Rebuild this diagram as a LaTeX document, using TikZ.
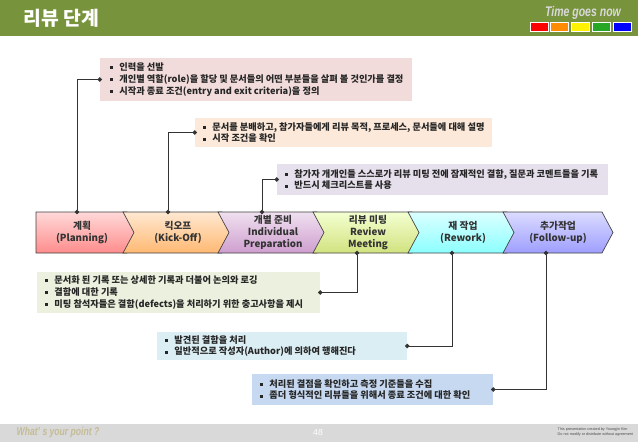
\documentclass[tikz,border=0pt]{standalone}
\usepackage{fontspec}
\setmainfont{Noto Sans CJK KR}
\newfontfamily\latinsans{Liberation Sans}
\newfontfamily\narrowsans[FakeStretch=0.75]{Liberation Sans}
\usetikzlibrary{positioning,fit,arrows.meta}

\definecolor{headgreen}{HTML}{77933C}
\definecolor{footgray}{HTML}{D9D9D9}
\definecolor{footkhaki}{HTML}{C4BC96}
\definecolor{noteA}{HTML}{F2DCDB}
\definecolor{noteB}{HTML}{FDE9D9}
\definecolor{noteC}{HTML}{E6E0EC}
\definecolor{noteD}{HTML}{EBF1DE}
\definecolor{noteE}{HTML}{DBEEF4}
\definecolor{noteF}{HTML}{C6D9F1}

\tikzset{
  stage/.style={align=center, font=\bfseries\fontsize{7.3}{8.8}\selectfont, text=black!80},
  chev/.style={draw=black!75, line width=0.5pt},
  note/.style={inner sep=0pt},
  notetext/.style={anchor=west, align=left, inner sep=0pt, font=\bfseries\fontsize{6.9}{8.9}\selectfont, text=black!85},
  link/.style={draw=black!80, line width=0.6pt, {Circle[length=3.2pt]}-{Circle[length=3.2pt]}, shorten <=-1.6pt, shorten >=-1.6pt},
  tbox/.style={draw=white, line width=0.6pt, inner sep=0pt, minimum width=13.5pt, minimum height=6.75pt}
}
\newcommand{\itm}{\rule[1pt]{2.1pt}{2.1pt}\hspace{5pt}}
% chevron: left x, tip x, notch depth
\newcommand{\chevpath}[3]{(#1,212) -- (#2-11,212) -- (#2,232.5) -- (#2-11,253) -- (#1,253) -- (#1+#3,232.5) -- cycle}

\begin{document}
\begin{tikzpicture}[x=0.75pt, y=-0.75pt]
    \useasboundingbox (0,0) rectangle (638,442);
    % header and footer
    \fill[headgreen] (0,0) rectangle (638,36);
    \fill[footgray] (0,424) rectangle (638,442);
    \node[anchor=west, text=white, font=\bfseries\fontsize{14.5}{16}\selectfont] (title) at (19,18) {리뷰 단계};
    \node[font=\narrowsans\bfseries\itshape\fontsize{10.5}{11}\selectfont, text=black!15] (slogan) at (583,13) {Time goes now};
    \node[tbox, fill=red] (sq1) at (539,26.5) {};
    \node[tbox, fill=orange!90!yellow, right=1.5pt of sq1] (sq2) {};
    \node[tbox, fill=yellow, right=1.5pt of sq2] (sq3) {};
    \node[tbox, fill=green!60!black!85, right=1.5pt of sq3] (sq4) {};
    \node[tbox, fill=blue, right=1.5pt of sq4] (sq5) {};
    \node[anchor=west, font=\narrowsans\bfseries\itshape\fontsize{8.6}{10}\selectfont, text=footkhaki] (point) at (12,433) {What’ s your point ?};
    \node[text=white, font=\latinsans\fontsize{6.5}{7}\selectfont] (pageno) at (318,433) {48};
    \node[anchor=west, align=left, font=\latinsans\fontsize{2.8}{3.4}\selectfont, text=black!70] (credit) at (553,432) {This presentation created by Youngjin Kim\\Do not modify or distribute without agreement};

    % stages
    \path[chev, top color=red!15, bottom color=red!45] \chevpath{36}{138}{0};
    \path[chev, top color=orange!18, bottom color=orange!55] \chevpath{123}{233}{11};
    \path[chev, top color=violet!12, bottom color=violet!38] \chevpath{218}{328}{11};
    \path[chev, top color=lime!18!white, bottom color=lime!55!olive!50] \chevpath{313}{423}{11};
    \path[chev, top color=cyan!14, bottom color=cyan!45] \chevpath{408}{518}{11};
    \path[chev, top color=blue!14, bottom color=blue!38] \chevpath{503}{613}{11};
    \node[stage] (plan) at (82,232.5) {계획\\(Planning)};
    \node[stage] (kick) at (178,232.5) {킥오프\\(Kick-Off)};
    \node[stage] (prep) at (273,232.5) {개별 준비\\Individual\\Preparation};
    \node[stage] (meet) at (368,232.5) {리뷰 미팅\\Review\\Meeting};
    \node[stage] (rework) at (463,232.5) {재 작업\\(Rework)};
    \node[stage] (follow) at (558,232.5) {추가작업\\(Follow-up)};
    \coordinate (p1) at (77,212);
    \coordinate (p2) at (168,212);
    \coordinate (p3) at (262,212);
    \coordinate (p4) at (357,253);
    \coordinate (p5) at (452,253);
    \coordinate (p6) at (546,253);

    % notes
    \node[note, fill=noteA, fit={(100,58) (412,101)}] (b1) {};
    \node[notetext] (t1) at ([xshift=7.5pt]b1.west) {\itm 인력을 선발\\\itm 개인별 역할(role)을 할당 및 문서들의 어떤 부분들을 살펴 볼 것인가를 결정\\\itm 시작과 종료 조건(entry and exit criteria)을 정의};
    \node[note, fill=noteB, fit={(195,118) (492,147)}] (b2) {};
    \node[notetext] (t2) at ([xshift=6pt]b2.west) {\itm 문서를 분배하고, 참가자들에게 리뷰 목적, 프로세스, 문서들에 대해 설명\\\itm 시작 조건을 확인};
    \node[note, fill=noteC, fit={(277,164) (608,195)}] (b3) {};
    \node[notetext] (t3) at ([xshift=6pt]b3.west) {\itm 참가자 개개인들 스스로가 리뷰 미팅 전에 잠재적인 결함, 질문과 코멘트들을 기록\\\itm 반드시 체크리스트를 사용};
    \node[note, fill=noteD, fit={(37,272) (320,313)}] (b4) {};
    \node[notetext] (t4) at ([xshift=6pt]b4.west) {\itm 문서화 된 기록 또는 상세한 기록과 더불어 논의와 로깅\\\itm 결함에 대한 기록\\\itm 미팅 참석자들은 결함(defects)을 처리하기 위한 충고사항을 제시};
    \node[note, fill=noteE, fit={(157,332) (407,360)}] (b5) {};
    \node[notetext] (t5) at ([xshift=6pt]b5.west) {\itm 발견된 결함을 처리\\\itm 일반적으로 작성자(Author)에 의하여 행해진다};
    \node[note, fill=noteF, fit={(252,374) (493,405)}] (b6) {};
    \node[notetext] (t6) at ([xshift=6pt]b6.west) {\itm 처리된 결점을 확인하고 측정 기준들을 수집\\\itm 좀더 형식적인 리뷰들을 위해서 종료 조건에 대한 확인};

    % links
    \draw[link] (p1) |- (b1.west);
    \draw[link] (p2) |- (b2.west);
    \draw[link] (p3) |- (b3.west);
    \draw[link] (p4) |- (b4.east);
    \draw[link] (p5) |- (b5.east);
    \draw[link] (p6) |- (b6.east);
\end{tikzpicture}
\end{document}
